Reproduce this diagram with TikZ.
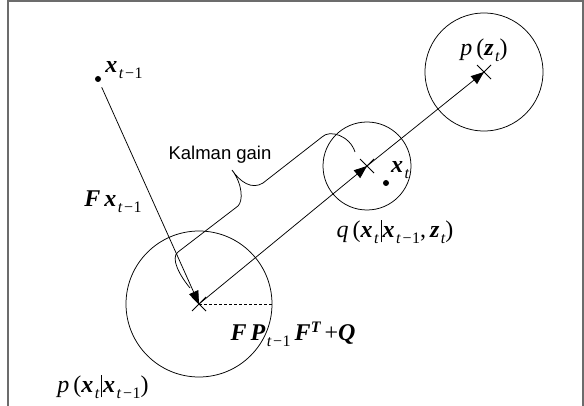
\documentclass[tikz,border=0pt]{standalone}
\usepackage{fontspec}
\setmainfont{Liberation Serif}
\newfontfamily\sansf{Liberation Sans}
\usetikzlibrary{arrows.meta}
\newcommand\bi[1]{{\bfseries\itshape #1}}
\newcommand\mi[1]{{\itshape #1}}
\newcommand\lsub[1]{\raisebox{-6pt}{\fontsize{16}{16}\selectfont\kern1.5pt #1}}
\newcommand\lsup[1]{\raisebox{8pt}{\fontsize{16}{16}\selectfont #1}}
\newcommand\minus{\kern2pt\textminus\kern0.5pt}
\newcommand\vbar{\kern2pt\rule[-5pt]{1pt}{22pt}\kern1pt}
\begin{document}
\begin{tikzpicture}[x=1pt,y=-1pt,line width=0.75pt,
  lab/.style={inner sep=0pt,font=\fontsize{24}{26}\selectfont},
  tip/.style={-{Triangle[length=13pt,width=10pt]}},
  frame/.style={draw=gray!85!black,line width=2pt}]
\useasboundingbox (0,0) rectangle (584,406);
% frame
\draw[frame] (7.5,410) -- (7.5,1) -- (583,1) -- (583,410);
% centres
\coordinate (C1) at (199,304);
\coordinate (C2) at (367,166);
\coordinate (C3) at (484,72);
\coordinate (P0) at (98,79);
\coordinate (PX) at (386,183);
\coordinate (E1) at (272,304);
% circles
\draw (C1) circle[radius=73pt];
\draw (C2) circle[radius=44pt];
\draw (C3) circle[radius=59pt];
% dots
\fill (P0) circle[radius=3pt];
\fill (PX) circle[radius=3pt];
% crosses
\foreach \c in {C1,C2,C3}{
  \draw (\c) ++(-7,-7) -- ++(14,14);
  \draw (\c) ++(-7,7) -- ++(14,-14);
}
% connectors
\draw[tip,shorten <=9pt] (P0) -- (C1);
\draw[tip] (C1) -- (C2);
\draw[tip] (C2) -- (C3);
\draw[dashed,dash pattern=on 3pt off 2pt] (C1) -- (E1);
% Kalman gain brace
\draw (190,288) .. controls (180,276) and (170,258) .. (178,252)
  -- (238,206) .. controls (243,201) and (243,185) .. (232,170)
  .. controls (240,182) and (252,190) .. (263,183)
  -- (322,137) .. controls (330,129) and (350,136) .. (355,152);
% labels
\node[lab] (lx0) at (124,70) {\bi{x}\lsub{\mi{t}\minus1}};
\node[lab] (lFx) at (113,202) {\bi{F}\,\bi{x}\lsub{\mi{t}\minus1}};
\node[lab,font=\sansf\fontsize{18.5}{20}\selectfont] (lk) at (220,155) {Kalman gain};
\node[lab] (lpz) at (484,50) {\mi{p}\,(\bi{z}\lsub{\mi{t}})};
\node[lab] (lxt) at (400,170) {\bi{x}\lsub{\mi{t}}};
\node[lab] (lq) at (395,232) {\mi{q}\,(\bi{x}\lsub{\mi{t}}\vbar\bi{x}\lsub{\mi{t}\minus1},\,\bi{z}\lsub{\mi{t}})};
\node[lab] (lFP) at (293,334) {\bi{F}\,\bi{P}\lsub{\mi{t}\minus1}\,\bi{F}\lsup{\bi{T}}\,+\bi{Q}};
\node[lab] (lp) at (103,387) {\mi{p}\,(\bi{x}\lsub{\mi{t}}\vbar\bi{x}\lsub{\mi{t}\minus1})};
\end{tikzpicture}
\end{document}
